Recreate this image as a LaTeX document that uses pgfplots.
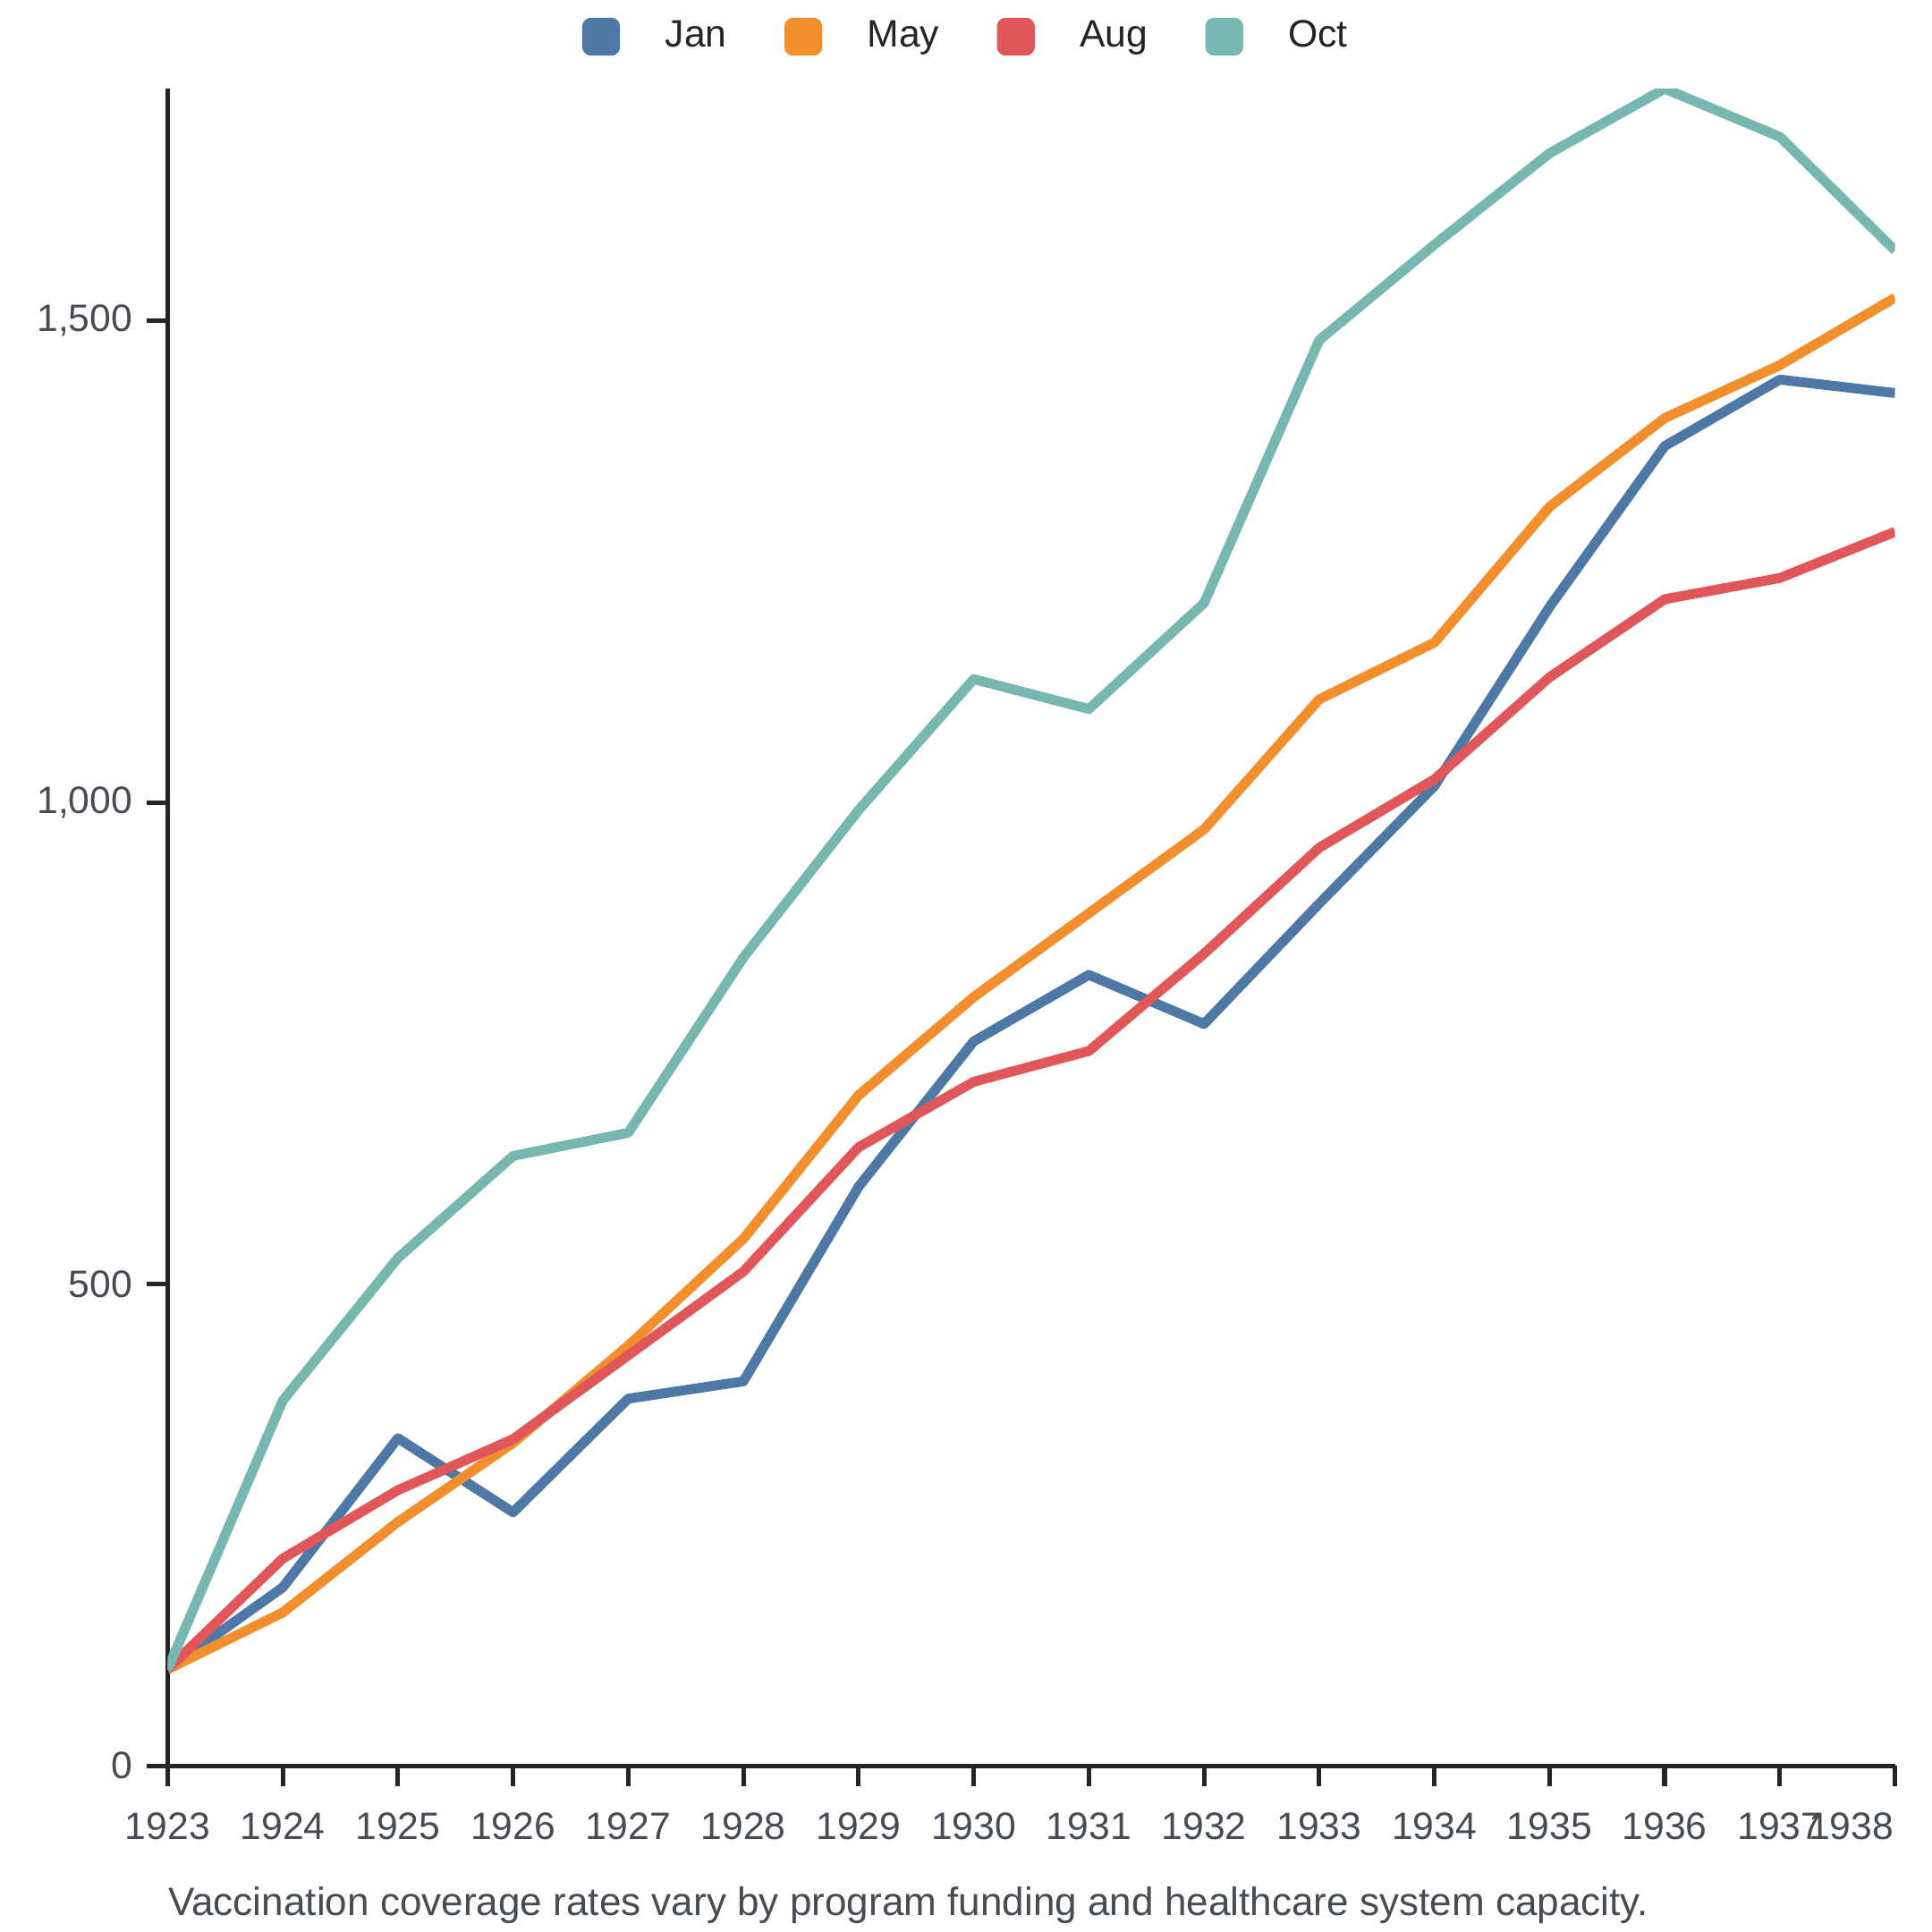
\documentclass[border=0pt]{standalone}
\usepackage{pgfplots}
\pgfplotsset{compat=1.18}
\usepackage{fontspec}
\setmainfont{Liberation Sans}
\definecolor{cJan}{HTML}{4E79A7}
\definecolor{cMay}{HTML}{F28E2B}
\definecolor{cAug}{HTML}{E15759}
\definecolor{cOct}{HTML}{76B7B2}
\definecolor{tickgray}{HTML}{474C52}
\definecolor{axisdark}{HTML}{222428}
\begin{document}
\begin{tikzpicture}
\begin{axis}[
  at={(0,0)}, anchor=south west,
  scale only axis, width=420.6pt, height=408.3pt,
  xmin=1923, xmax=1938, ymin=0, ymax=1741,
  axis lines=left, axis line style={-, axisdark, line width=1.1pt},
  tick align=outside, tick pos=left,
  major tick length=5pt,
  tick style={axisdark, line width=1.1pt},
  xtick={1923,...,1937},
  extra x ticks={1938},
  extra x tick style={xticklabel style={anchor=north east, xshift=3.2pt}},
  ytick={0,500,1000,1500},
  /pgf/number format/assume math mode=true,
  font=\fontsize{9.3pt}{11pt}\selectfont,
  ticklabel style={color=tickgray, font=\fontsize{9.3pt}{11pt}\selectfont},
  xticklabel style={/pgf/number format/set thousands separator={}, yshift=-3pt},
  yticklabel style={/pgf/number format/1000 sep={,}},
  scaled y ticks=false,
  legend columns=4,
  legend style={draw=none, fill=none, at={(0.464,1.031)}, anchor=center,
    text=axisdark,
    font=\fontsize{9.3pt}{11pt}\selectfont,
    /tikz/every odd column/.append style={column sep=9pt},
    /tikz/every even column/.append style={column sep=12pt}},
  legend image code/.code={\fill[rounded corners=0.8pt] (0pt,-3.4pt) rectangle (6.8pt,3.4pt);},
  every axis plot/.append style={line width=2.4pt, mark=none, line join=round},
]
\addplot[color=cJan] coordinates {(1923,100)(1924,185)(1925,340)(1926,263)(1927,381)(1928,399)(1929,601)(1930,752)(1931,821)(1932,770)(1933,895)(1934,1017)(1935,1203)(1936,1370)(1937,1439)(1938,1425)};
\addlegendentry{Jan}
\addplot[color=cMay] coordinates {(1923,100)(1924,159)(1925,253)(1926,335)(1927,436)(1928,547)(1929,696)(1930,798)(1931,885)(1932,972)(1933,1107)(1934,1166)(1935,1307)(1936,1399)(1937,1454)(1938,1524)};
\addlegendentry{May}
\addplot[color=cAug] coordinates {(1923,100)(1924,215)(1925,286)(1926,339)(1927,426)(1928,513)(1929,642)(1930,710)(1931,742)(1932,843)(1933,953)(1934,1024)(1935,1130)(1936,1211)(1937,1233)(1938,1281)};
\addlegendentry{Aug}
\addplot[color=cOct] coordinates {(1923,100)(1924,379)(1925,527)(1926,633)(1927,657)(1928,839)(1929,992)(1930,1128)(1931,1097)(1932,1207)(1933,1480)(1934,1579)(1935,1674)(1936,1741)(1937,1691)(1938,1573)};
\addlegendentry{Oct}
\end{axis}
\node[anchor=west, inner sep=0pt, text=tickgray, font=\fontsize{9.6pt}{11pt}\selectfont] at (0,-34pt) {Vaccination coverage rates vary by program funding and healthcare system capacity.};
\pgfresetboundingbox
\useasboundingbox (-40.8pt,-40.5pt) rectangle (429.6pt,429.9pt);
\end{tikzpicture}
\end{document}
